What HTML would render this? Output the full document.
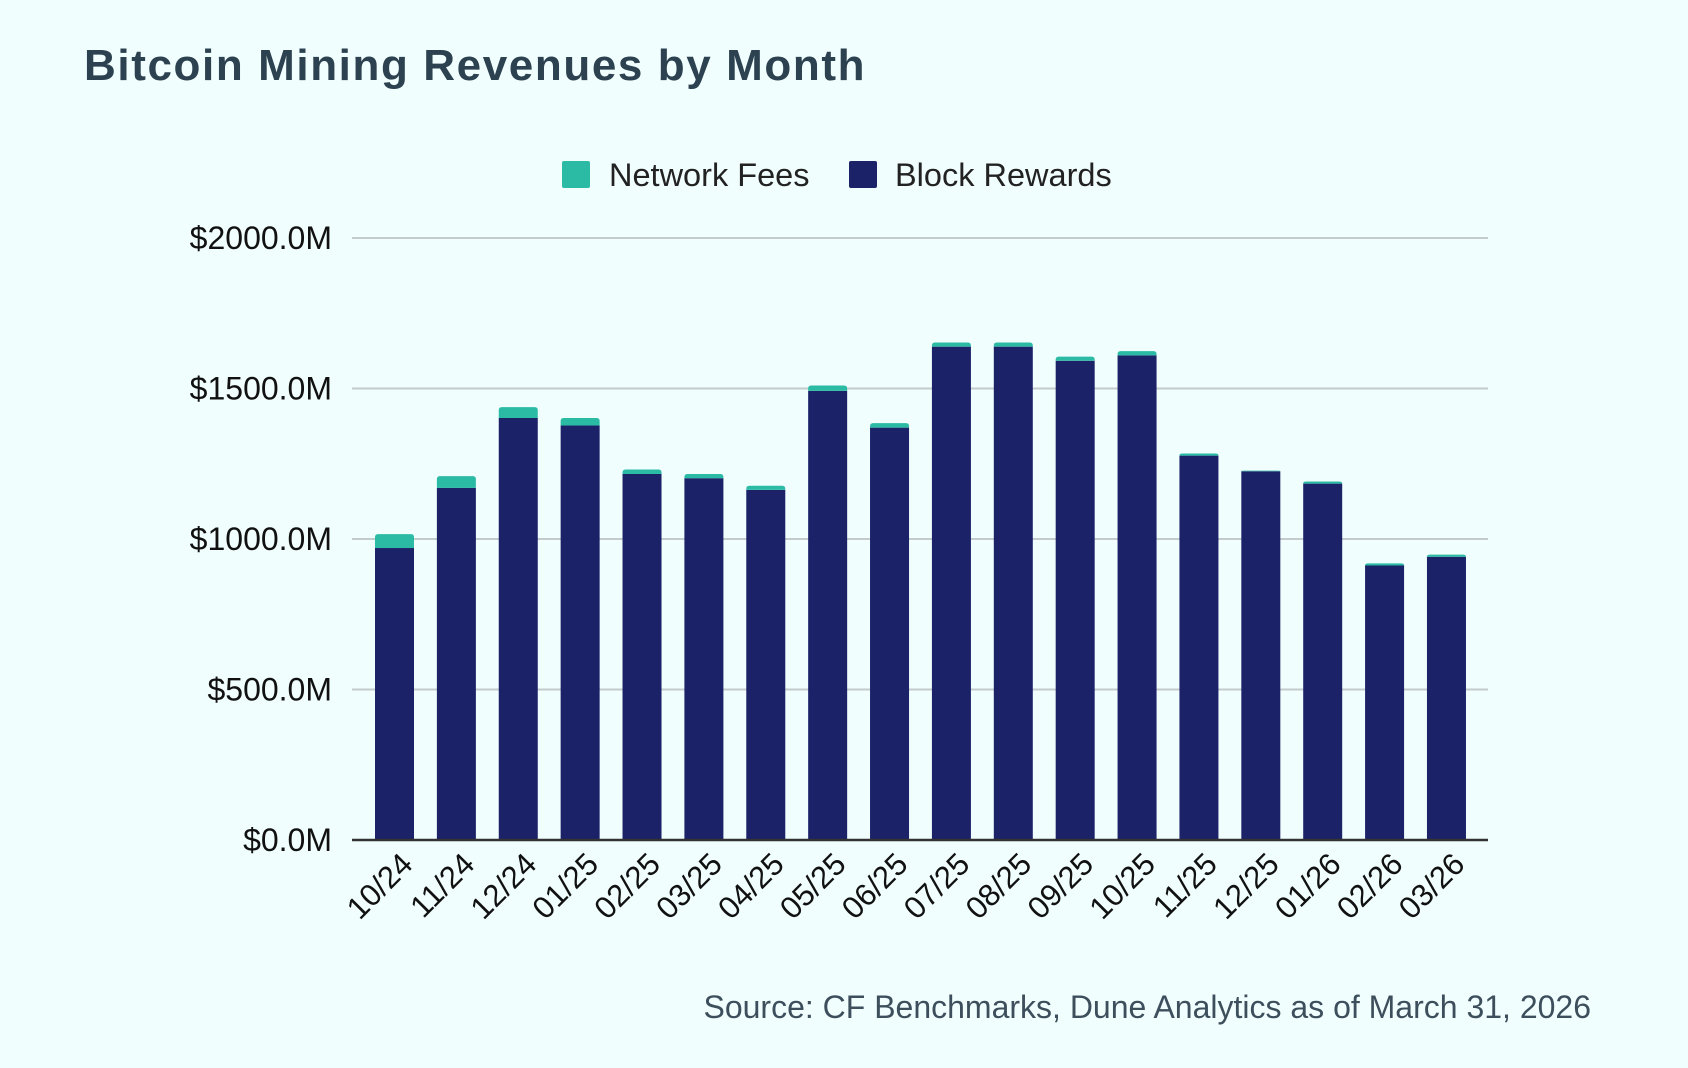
<!DOCTYPE html>
<html><head><meta charset="utf-8"><style>
html,body{margin:0;padding:0;background:#f1fefe;}
svg{display:block;font-family:"Liberation Sans",sans-serif;}
</style></head><body>
<svg width="1688" height="1068" viewBox="0 0 1688 1068">
<rect width="1688" height="1068" fill="#f1fefe"/>
<text x="84" y="80" font-size="44" font-weight="bold" letter-spacing="1.6" fill="#2d4250">Bitcoin Mining Revenues by Month</text>
<g>
<rect x="562" y="161" width="28" height="27" rx="2" fill="#2bbba5"/>
<text x="609" y="186" font-size="32.5" fill="#222">Network Fees</text>
<rect x="849" y="161" width="28" height="27" rx="2" fill="#1b2268"/>
<text x="895" y="186" font-size="32.5" fill="#222">Block Rewards</text>
</g>
<g id="grid"></g><g id="bars"></g><g id="xl"></g>
<text x="1591" y="1018" font-size="32" fill="#3d4f5c" text-anchor="end">Source: CF Benchmarks, Dune Analytics as of March 31, 2026</text>
</svg>
<script>
const categories=["10/24","11/24","12/24","01/25","02/25","03/25","04/25","05/25","06/25","07/25","08/25","09/25","10/25","11/25","12/25","01/26","02/26","03/26"];
const blockRewards=[970,1170,1402,1377,1216,1202,1163,1492,1370,1639,1639,1592,1610,1277,1225,1184,912,941];
const networkFees=[46,39,36,25,15,14,14,18,15,14,14,14,14,7,2,7,7,7];
const yTicks=[0,500,1000,1500,2000];
const yTickLabels=["$0.0M","$500.0M","$1000.0M","$1500.0M","$2000.0M"];
const NS="http://www.w3.org/2000/svg";
const y=v=>840-v/2000*602;
const x=i=>394.5+i*61.88;
const bw=39;
function mk(t,a,p){const e=document.createElementNS(NS,t);for(const k in a)e.setAttribute(k,a[k]);p.appendChild(e);return e;}
const g=document.getElementById('grid');
yTicks.forEach((t,i)=>{
 if(t!==0){const l=mk('line',{x1:352,x2:1488,y1:y(t),y2:y(t),stroke:'#c3cbcc','stroke-width':2},g);
 
 }
 const tx=mk('text',{x:332,y:y(t)+11,'font-size':32,'text-anchor':'end',fill:'#111'},g);
 tx.textContent=yTickLabels[i];
 
 
});
const b=document.getElementById('bars');
categories.forEach((c,i)=>{
 const r=mk('rect',{x:x(i)-bw/2,y:y(blockRewards[i]),width:bw,height:840-y(blockRewards[i]),fill:'#1b2268'},b);
 
 
 const top=y(blockRewards[i]+networkFees[i]);
 const h=y(blockRewards[i])-top;
 const p=mk('path',{d:`M${x(i)-bw/2},${top+h} V${top+Math.min(3,h)} Q${x(i)-bw/2},${top} ${x(i)-bw/2+3},${top} H${x(i)+bw/2-3} Q${x(i)+bw/2},${top} ${x(i)+bw/2},${top+Math.min(3,h)} V${top+h} Z`,fill:'#2bbba5'},b);
 
 
});
const ax=mk('line',{x1:352,x2:1488,y1:840,y2:840,stroke:'#333','stroke-width':2.5},b);


const xl=document.getElementById('xl');
categories.forEach((c,i)=>{
 const t=mk('text',{x:0,y:0,'font-size':31,'text-anchor':'end',fill:'#111',transform:`translate(${x(i)+20},${866}) rotate(-45)`},xl);
 t.textContent=c;
 
 
});
</script>
</body></html>
